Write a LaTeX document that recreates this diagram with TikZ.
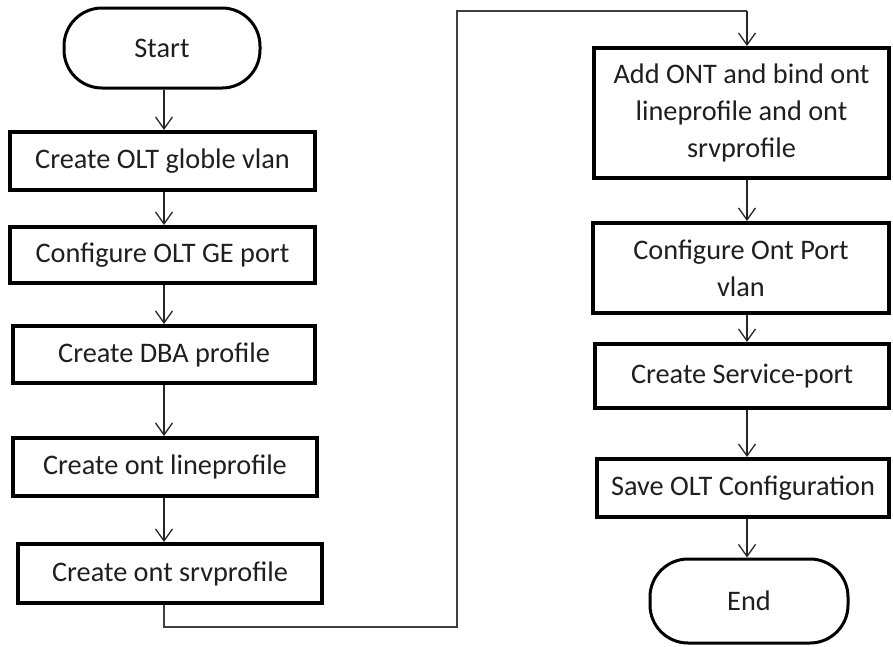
\documentclass[tikz,border=0pt]{standalone}
\usepackage{fontspec}
\setmainfont{Carlito}
\usetikzlibrary{arrows.meta}
\begin{document}
\begin{tikzpicture}[x=1pt,y=-1pt,
  proc/.style={draw=black, line width=4pt, fill=white, align=center, inner sep=0pt,
    font=\fontsize{28.3}{37}\selectfont, text=black!88},
  term/.style={draw=black, line width=3pt, fill=white, rounded corners=38pt, inner sep=0pt,
    font=\fontsize{28.3}{37}\selectfont, text=black!88},
  arr/.style={line width=1.3pt, draw=black!85, -{Straight Barb[length=12pt,width=17pt,line width=1.3pt]}},
  link/.style={line width=1.3pt, draw=black!75}]
\useasboundingbox (0,0) rectangle (893,646);
% left column
\node[term, minimum width=196pt, minimum height=80pt] (start) at (162,48) {Start};
\node[proc, minimum width=305pt, minimum height=58pt] (b1) at (162.5,161) {Create OLT globle vlan};
\node[proc, minimum width=305pt, minimum height=56pt] (b2) at (162.5,255) {Configure OLT GE port};
\node[proc, minimum width=302pt, minimum height=57pt] (b3) at (164,354.5) {Create DBA profile};
\node[proc, minimum width=304pt, minimum height=58pt] (b4) at (165,467) {Create ont lineprofile};
\node[proc, minimum width=304pt, minimum height=59pt] (b5) at (170,573.5) {Create ont srvprofile};
% right column
\node[proc, minimum width=295pt, minimum height=130pt] (b6) at (741.5,113) {Add ONT and bind ont\\lineprofile and ont\\srvprofile};
\node[proc, minimum width=296pt, minimum height=90pt] (b7) at (741,268) {Configure Ont Port\\vlan};
\node[proc, minimum width=294pt, minimum height=64pt] (b8) at (742,376) {Create Service-port};
\node[proc, minimum width=292pt, minimum height=58pt] (b9) at (743,488) {Save OLT Configuration};
\node[term, minimum width=198pt, minimum height=84pt] (end) at (749,601) {End};
% column guides
\coordinate (lx) at (164,0);
\coordinate (rx) at (747,0);
\coordinate (c1) at (457,627);
\coordinate (c2) at (457,11);
% arrows left
\draw[arr] (start.south -| lx) -- (b1.north -| lx);
\draw[arr] (b1.south -| lx) -- (b2.north -| lx);
\draw[arr] (b2.south -| lx) -- (b3.north -| lx);
\draw[arr] (b3.south -| lx) -- (b4.north -| lx);
\draw[arr] (b4.south -| lx) -- (b5.north -| lx);
% loop connector
\draw[link] (b5.south -| lx) |- (c1) -- (c2) -- (c2 -| rx);
\draw[arr] (c2 -| rx) -- (b6.north -| rx);
% arrows right
\draw[arr] (b6.south -| rx) -- (b7.north -| rx);
\draw[arr] (b7.south -| rx) -- (b8.north -| rx);
\draw[arr] (b8.south -| rx) -- (b9.north -| rx);
\draw[arr] (b9.south -| rx) -- (end.north -| rx);
\end{tikzpicture}
\end{document}
